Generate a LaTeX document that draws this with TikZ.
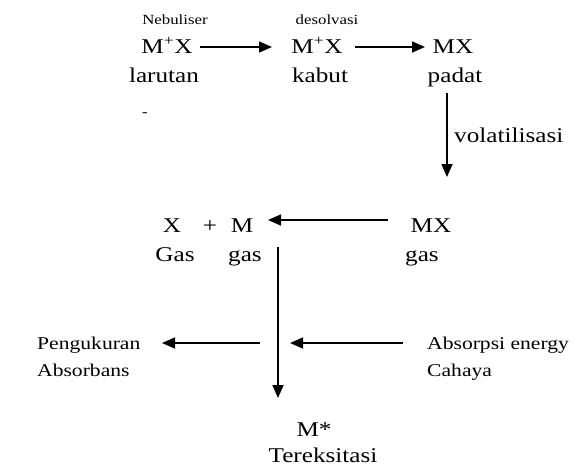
\documentclass[tikz,border=0pt]{standalone}
\usepackage{fontspec}
\setmainfont{Liberation Serif}[FakeStretch=1.2]
\usetikzlibrary{arrows.meta}
\begin{document}
\begin{tikzpicture}[x=1pt,y=-1pt,
  big/.style={font=\fontsize{21}{25}\selectfont, inner sep=0pt, anchor=base},
  small/.style={font=\fontsize{14}{16}\selectfont, inner sep=0pt, anchor=base},
  mid/.style={font=\fontsize{18}{21}\selectfont, inner sep=0pt, anchor=base west},
  arr/.style={line width=1.6pt, -{Triangle[length=13pt,width=11pt]}},
  ln/.style={line width=1.6pt}]
\useasboundingbox[fill=white] (0,0) rectangle (583,475);
% row 1
\node[small] (neb) at (175,24) {Nebuliser};
\node[big] (mx1) at (167,53) {M\textsuperscript{+}X};
\node[big] (lar) at (164,82) {larutan};
\node[small] (des) at (327,24) {desolvasi};
\node[big] (mx2) at (317,53) {M\textsuperscript{+}X};
\node[big] (kab) at (320,82) {kabut};
\node[big] (mx3) at (453,53) {MX};
\node[big] (pad) at (455,82) {padat};
\node[small] (dash) at (145,116) {-};
\node[big, anchor=base west] (vol) at (454,142) {volatilisasi};
% row 2
\node[big] (xg) at (172,232) {X};
\node[big] (plus) at (210,232) {+};
\node[big] (mg) at (242,232) {M};
\node[big] (gas1) at (175,261) {Gas};
\node[big] (gas2) at (245,261) {gas};
\node[big] (mx4) at (431,232) {MX};
\node[big] (gas3) at (422,261) {gas};
% row 3
\node[mid] (peng) at (37,349) {Pengukuran};
\node[mid] (absb) at (37,376) {Absorbans};
\node[mid] (abse) at (427,349) {Absorpsi energy};
\node[mid] (cah) at (427,376) {Cahaya};
\node[big] (ms) at (314,436) {M*};
\node[big] (ter) at (323,462) {Tereksitasi};
% connector ends
\coordinate (a1s) at (200,47);
\coordinate (a1e) at (272,47);
\coordinate (a2s) at (355,47);
\coordinate (a2e) at (425,47);
\coordinate (v1s) at (447,93);
\coordinate (v1e) at (447,177);
\coordinate (a3s) at (388,220);
\coordinate (a3e) at (268,220);
\coordinate (v2s) at (278,247);
\coordinate (v2e) at (278,398);
\coordinate (a4s) at (260,343);
\coordinate (a4e) at (162,343);
\coordinate (a5s) at (403,343);
\coordinate (a5e) at (290,343);
% connectors
\draw[arr] (a1s) -- (a1e);
\draw[arr] (a2s) -- (a2e);
\draw[arr] (v1s) -- (v1e);
\draw[arr] (a3s) -- (a3e);
\draw[arr] (v2s) -- (v2e);
\draw[arr] (a4s) -- (a4e);
\draw[arr] (a5s) -- (a5e);
\end{tikzpicture}
\end{document}
